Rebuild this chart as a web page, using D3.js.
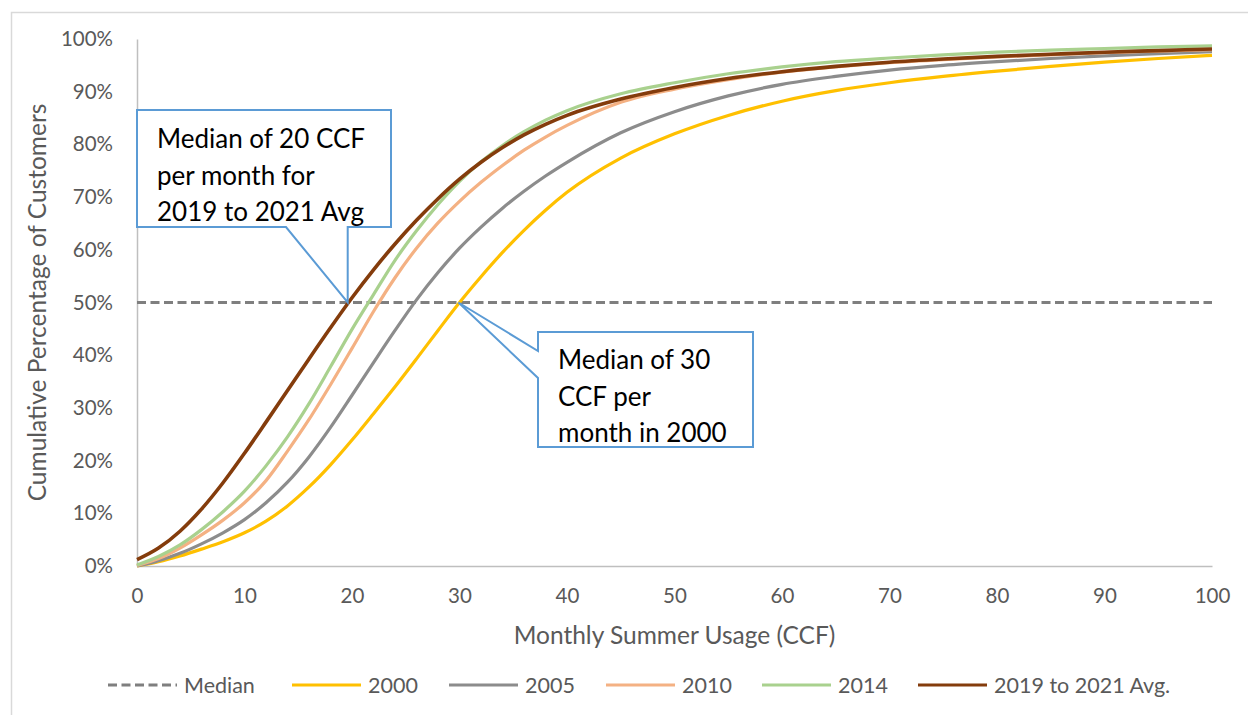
<!DOCTYPE html>
<html>
<head>
<meta charset="utf-8">
<script src="https://cdn.jsdelivr.net/npm/d3@7"></script>
<style>
  html, body { margin: 0; padding: 0; background: #fff; }
  svg { display: block; font-family: Lato, "Open Sans", sans-serif; }
</style>
</head>
<body>
<svg id="chart" width="1248" height="715"></svg>
<script>
// Monthly summer usage (CCF) sample points
const usage = [0, 2, 4, 6, 8, 10, 12, 14, 16, 18, 20, 22, 24, 26, 28, 30, 32, 34, 36, 38, 40,
               45, 50, 55, 60, 65, 70, 75, 80, 85, 90, 95, 100];

// Cumulative share of customers (%) at each usage point
const y2000 = [0, 0.8, 1.9, 3.2, 4.6, 6.3, 8.5, 11.4, 15.0, 19.2, 23.9, 28.9, 34.0, 39.3, 44.7, 50.0, 54.9, 59.5, 63.7, 67.5, 70.9,
               77.4, 82.0, 85.5, 88.2, 90.2, 91.7, 92.9, 93.9, 94.8, 95.6, 96.3, 96.9];
const y2005 = [0, 1.0, 2.4, 4.2, 6.3, 8.8, 12.0, 15.9, 20.7, 26.3, 32.4, 38.6, 44.7, 50.5, 55.7, 60.3, 64.3, 67.9, 71.1, 74.0, 76.6,
               82.2, 86.2, 89.2, 91.4, 92.9, 94.1, 95.0, 95.7, 96.3, 96.8, 97.2, 97.6];
const y2010 = [0.1, 1.4, 3.4, 5.9, 8.7, 12.0, 16.2, 21.8, 27.8, 34.4, 41.3, 48.3, 54.7, 60.3, 65.1, 69.2, 72.8, 76.0, 78.9, 81.4, 83.6,
               88.0, 90.5, 92.3, 93.7, 94.7, 95.5, 96.1, 96.6, 97.0, 97.4, 97.7, 98.0];
const y2014 = [0.2, 1.8, 4.0, 6.9, 10.3, 14.2, 19.0, 24.5, 30.8, 37.8, 44.9, 51.5, 58.0, 63.6, 68.6, 73.0, 76.7, 79.8, 82.4, 84.6, 86.4,
               89.6, 91.7, 93.4, 94.7, 95.7, 96.4, 97.0, 97.5, 97.9, 98.2, 98.5, 98.7];
const yAvg = [1.2, 3.4, 6.6, 10.8, 15.8, 21.4, 27.3, 33.3, 39.3, 45.2, 50.9, 56.2, 61.1, 65.6, 69.7, 73.4, 76.6, 79.4, 81.8, 83.8, 85.5,
              88.6, 90.8, 92.5, 93.8, 94.8, 95.6, 96.2, 96.7, 97.1, 97.5, 97.8, 98.1];

// Median reference line
const medianUsage = [0, 100];
const medianValue = [50, 50];

const seriesNames = ["2000", "2005", "2010", "2014", "2019 to 2021 Avg."];
const seriesColors = ["#FFC000", "#8C8C8C", "#F4B183", "#A9D18E", "#843C0C"];
const seriesValues = [y2000, y2005, y2010, y2014, yAvg];

const xTicks = [0, 10, 20, 30, 40, 50, 60, 70, 80, 90, 100];
const yTicks = [0, 10, 20, 30, 40, 50, 60, 70, 80, 90, 100];

const xTitle = "Monthly Summer Usage (CCF)";
const yTitle = "Cumulative Percentage of Customers";

const callouts = [
  { lines: ["Median of 20 CCF", "per month for", "2019 to 2021 Avg"], usage: 19.6 },
  { lines: ["Median of 30", "CCF per", "month in 2000"], usage: 29.9 }
];

const svg = d3.select("#chart");
const plotL = 137, plotR = 1212, plotT = 39, plotB = 566;

const x = d3.scaleLinear().domain([0, 100]).range([plotL, plotR]);
const y = d3.scaleLinear().domain([0, 100]).range([plotB, plotT]);

// chart frame
svg.append("rect")
  .attr("x", 11.5).attr("y", 12.5)
  .attr("width", 1260).attr("height", 720)
  .attr("fill", "none").attr("stroke", "#d9d9d9").attr("stroke-width", 1.5);

// axes
const xAxis = svg.append("g").attr("transform", `translate(0,${plotB})`)
  .call(d3.axisBottom(x).tickValues(xTicks).tickSize(0).tickPadding(22).tickFormat(d3.format("d")));
const yAxis = svg.append("g").attr("transform", `translate(${plotL},0)`)
  .call(d3.axisLeft(y).tickValues(yTicks).tickSize(0).tickPadding(24).tickFormat(d => d + "%"));
[xAxis, yAxis].forEach(g => {
  g.select(".domain").attr("stroke", "#bfbfbf").attr("stroke-width", 1.5);
  g.selectAll("text").attr("fill", "#595959").style("font-size", "20.5px")
    .style("font-family", "Lato, 'Open Sans', sans-serif");
});

// axis titles
svg.append("text")
  .attr("x", (plotL + plotR) / 2).attr("y", 644)
  .attr("text-anchor", "middle").attr("fill", "#595959").style("font-size", "24.5px")
  .text(xTitle);
svg.append("text")
  .attr("transform", `translate(46,${(plotT + plotB) / 2}) rotate(-90)`)
  .attr("text-anchor", "middle").attr("fill", "#595959").style("font-size", "24.5px")
  .text(yTitle);

// median line
const line = d3.line().x(d => x(d[0])).y(d => y(d[1]));
svg.append("path")
  .datum(medianUsage.map((u, i) => [u, medianValue[i]]))
  .attr("d", line)
  .attr("fill", "none").attr("stroke", "#7F7F7F").attr("stroke-width", 3.2)
  .attr("stroke-dasharray", "9,4.5");

// distribution curves
const curve = d3.line().x(d => x(d[0])).y(d => y(d[1])).curve(d3.curveMonotoneX);
seriesValues.forEach((vals, i) => {
  svg.append("path")
    .datum(usage.map((u, j) => [u, vals[j]]))
    .attr("d", curve)
    .attr("fill", "none").attr("stroke", seriesColors[i])
    .attr("stroke-width", i === 4 ? 3.6 : 3.2)
    .attr("stroke-linejoin", "round");
});

// callouts
function callout(box, tip, base, lines, textX, firstBase) {
  const [bx, by, bw, bh] = box;
  const g = svg.append("g");
  let pts;
  if (base.side === "bottom") {
    pts = [[bx, by], [bx + bw, by], [bx + bw, by + bh], [base.b, by + bh], tip, [base.a, by + bh], [bx, by + bh]];
  } else {
    pts = [[bx, by], [bx + bw, by], [bx + bw, by + bh], [bx, by + bh], [bx, base.b], tip, [bx, base.a]];
  }
  g.append("path")
    .attr("d", d3.line()(pts) + "Z")
    .attr("fill", "#fff").attr("stroke", "#5B9BD5").attr("stroke-width", 2);
  lines.forEach((t, i) => {
    g.append("text").attr("x", textX).attr("y", firstBase + i * 36.5)
      .attr("fill", "#000").style("font-size", "26px").text(t);
  });
}
callout([137, 110, 254, 117], [x(callouts[0].usage), y(50)], { side: "bottom", a: 286, b: x(callouts[0].usage) },
        callouts[0].lines, 157, 148);
callout([538, 332, 215, 115], [x(callouts[1].usage), y(50)], { side: "left", a: 351, b: 378 },
        callouts[1].lines, 558, 369);

// legend
const legendY = 685;
const legendItems = [
  { name: "Median", color: "#7F7F7F", dash: "9,4.5", x0: 108 },
  ...seriesNames.map((n, i) => ({ name: n, color: seriesColors[i], dash: null, x0: [292, 449, 606, 762, 918][i] }))
];
legendItems.forEach(it => {
  svg.append("line")
    .attr("x1", it.x0).attr("x2", it.x0 + 69).attr("y1", legendY).attr("y2", legendY)
    .attr("stroke", it.color).attr("stroke-width", 3.2)
    .attr("stroke-dasharray", it.dash);
  svg.append("text")
    .attr("x", it.x0 + 76).attr("y", legendY + 7.5)
    .attr("fill", "#595959").style("font-size", "21.5px").text(it.name);
});
</script>
</body>
</html>
